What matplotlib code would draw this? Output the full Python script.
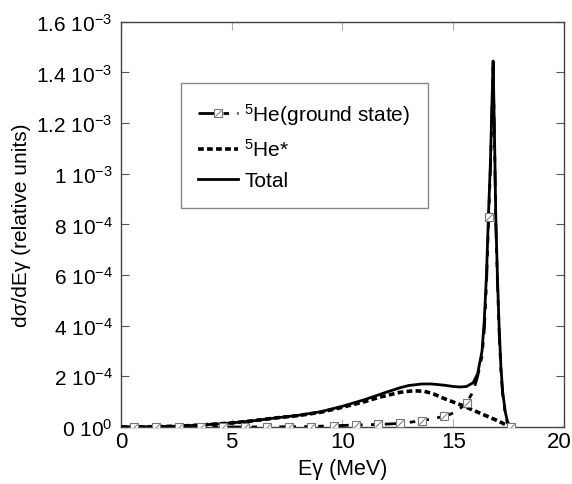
import numpy as np
import matplotlib
matplotlib.use("Agg")
import matplotlib.pyplot as plt
from matplotlib.path import Path
from matplotlib.legend_handler import HandlerTuple
import matplotlib.transforms as mtransforms

plt.rcParams['font.family'] = ['Liberation Sans', 'DejaVu Sans']
plt.rcParams['mathtext.fontset'] = 'custom'
plt.rcParams['mathtext.rm'] = 'Liberation Sans'
plt.rcParams['mathtext.it'] = 'Liberation Sans:italic'
plt.rcParams['mathtext.default'] = 'regular'

# ---- data (values in units of 1e-4) ----
total_E = [0, 1, 2, 3, 4, 5, 6, 7, 8, 9, 10, 11, 12, 12.6, 13, 13.6, 14, 14.6, 15, 15.3,
           15.6, 15.9, 16.1, 16.3, 16.4, 16.5, 16.6, 16.68, 16.74, 16.8, 16.84, 16.88, 16.92,
           17.0, 17.07, 17.15, 17.23, 17.35, 17.45, 17.6]
total_val = [0, 0.005, 0.02, 0.05, 0.1, 0.16, 0.25, 0.36, 0.46, 0.6, 0.82, 1.08, 1.38, 1.55,
             1.64, 1.70, 1.70, 1.65, 1.60, 1.58, 1.60, 1.75, 2.1, 3.0, 4.2, 6.0, 8.6, 10.5,
             12.5, 14.45, 12.6, 10.6, 8.3, 5.8, 4.0, 2.4, 1.4, 0.6, 0.2, 0.0]

hestar_E = [0, 1, 2, 3, 4, 5, 6, 7, 8, 9, 10, 11, 11.6, 12.6, 13.2, 13.7, 14.1, 14.6, 15.2,
            15.45, 15.8, 16.2, 16.6, 17.0, 17.3, 17.6]
hestar_val = [0, 0.005, 0.02, 0.05, 0.1, 0.16, 0.25, 0.36, 0.45, 0.58, 0.78, 1.0, 1.16, 1.37,
              1.43, 1.41, 1.31, 1.12, 0.92, 0.84, 0.70, 0.55, 0.40, 0.25, 0.12, 0.0]

ground_E = [0, 0.6, 1.6, 2.6, 3.6, 4.6, 5.6, 6.6, 7.6, 8.6, 9.6, 10.6, 11.6, 12.6, 13.6, 14.6,
            15.0, 15.3, 15.6, 15.9, 16.1, 16.3, 16.4, 16.5, 16.6, 16.68, 16.74, 16.8, 16.84,
            16.88, 16.92, 17.0, 17.07, 17.15, 17.23, 17.35, 17.45, 17.6]
ground_val = [0, 0.0, 0.0, 0.0, 0.0, 0.0, 0.0, 0.005, 0.01, 0.02, 0.05, 0.08, 0.10, 0.14, 0.25,
              0.42, 0.55, 0.72, 0.95, 1.4, 2.0, 2.8, 3.8, 5.6, 8.3, 10.2, 12.2, 14.2, 12.4,
              10.4, 8.1, 5.6, 3.8, 2.25, 1.3, 0.5, 0.15, 0.0]
marker_E = [0.6, 1.6, 2.6, 3.6, 4.6, 5.6, 6.6, 7.6, 8.6, 9.6, 10.6, 11.6, 12.6, 13.6, 14.6,
            15.6, 16.6, 17.6]

xticks = [0, 5, 10, 15, 20]
yticks = [0, 2e-4, 4e-4, 6e-4, 8e-4, 1e-3, 1.2e-3, 1.4e-3, 1.6e-3]
ytick_labels = [r'0 10$^{0}$', r'2 10$^{-4}$', r'4 10$^{-4}$', r'6 10$^{-4}$', r'8 10$^{-4}$',
                r'1 10$^{-3}$', r'1.2 10$^{-3}$', r'1.4 10$^{-3}$', r'1.6 10$^{-3}$']

scale = 1e-4
fig = plt.figure(figsize=(5.72, 4.85), dpi=100)
ax = fig.add_axes([0.2115, 0.1175, 0.7745, 0.8357])

mark_idx = [ground_E.index(e) for e in marker_E]
gE = np.array(ground_E)
gV = np.array(ground_val) * scale

l_ground, = ax.plot(gE, gV, color='black', lw=2.0, dashes=[6, 3, 2, 3, 2, 3], zorder=3,
                    marker='s', markersize=5.5, markerfacecolor='white',
                    markeredgecolor='#777777', markeredgewidth=0.8, markevery=mark_idx)
slash = Path([(-0.5, -0.5), (0.5, 0.5)], [Path.MOVETO, Path.LINETO])
l_slash, = ax.plot(gE, gV, lw=0, marker=slash, markersize=4.5, markeredgecolor='#777777',
                   markeredgewidth=0.7, markevery=mark_idx, zorder=4)
l_star, = ax.plot(np.array(hestar_E), np.array(hestar_val) * scale, color='black', lw=2.6,
                  dashes=[1.6, 0.9], zorder=2)
l_tot, = ax.plot(np.array(total_E), np.array(total_val) * scale, color='black', lw=2.0,
                 zorder=2)

ax.set_xlim(0, 20)
ax.set_ylim(0, 1.6e-3)
ax.set_xticks(xticks)
ax.set_xticklabels([str(t) for t in xticks], fontsize=16)
ax.set_yticks(yticks)
ax.set_yticklabels(ytick_labels, fontsize=15)
ax.tick_params(axis='both', direction='in', length=6, width=0.8, color='#555555',
               top=True, right=True, pad=6)
ax.tick_params(axis='x', pad=3, color='#aaaaaa')
for s in ax.spines.values():
    s.set_color('#444444')
    s.set_linewidth(1.0)

# nudge the last x tick label so it stays inside the figure
last = ax.get_xticklabels()[-1]
last.set_transform(last.get_transform() +
                   mtransforms.ScaledTranslation(-5 / 100, 0, fig.dpi_scale_trans))

ax.set_xlabel('Eγ (MeV)', fontsize=15.5, labelpad=4)
ax.set_ylabel('dσ/dEγ (relative units)', fontsize=15, labelpad=4)

leg = ax.legend([(l_ground, l_slash), l_star, l_tot],
                [r'$^{5}$He(ground state)', r'$^{5}$He*', 'Total'],
                handler_map={tuple: HandlerTuple(ndivide=1)},
                loc='upper left', bbox_to_anchor=(0.135, 0.849), fontsize=15,
                frameon=True, fancybox=False, edgecolor='#888888', framealpha=1,
                handlelength=1.9, handletextpad=0.3, labelspacing=0.55, borderpad=0.85,
                borderaxespad=0)
leg.get_frame().set_linewidth(1.0)

fig.savefig('out.png', dpi=100)
